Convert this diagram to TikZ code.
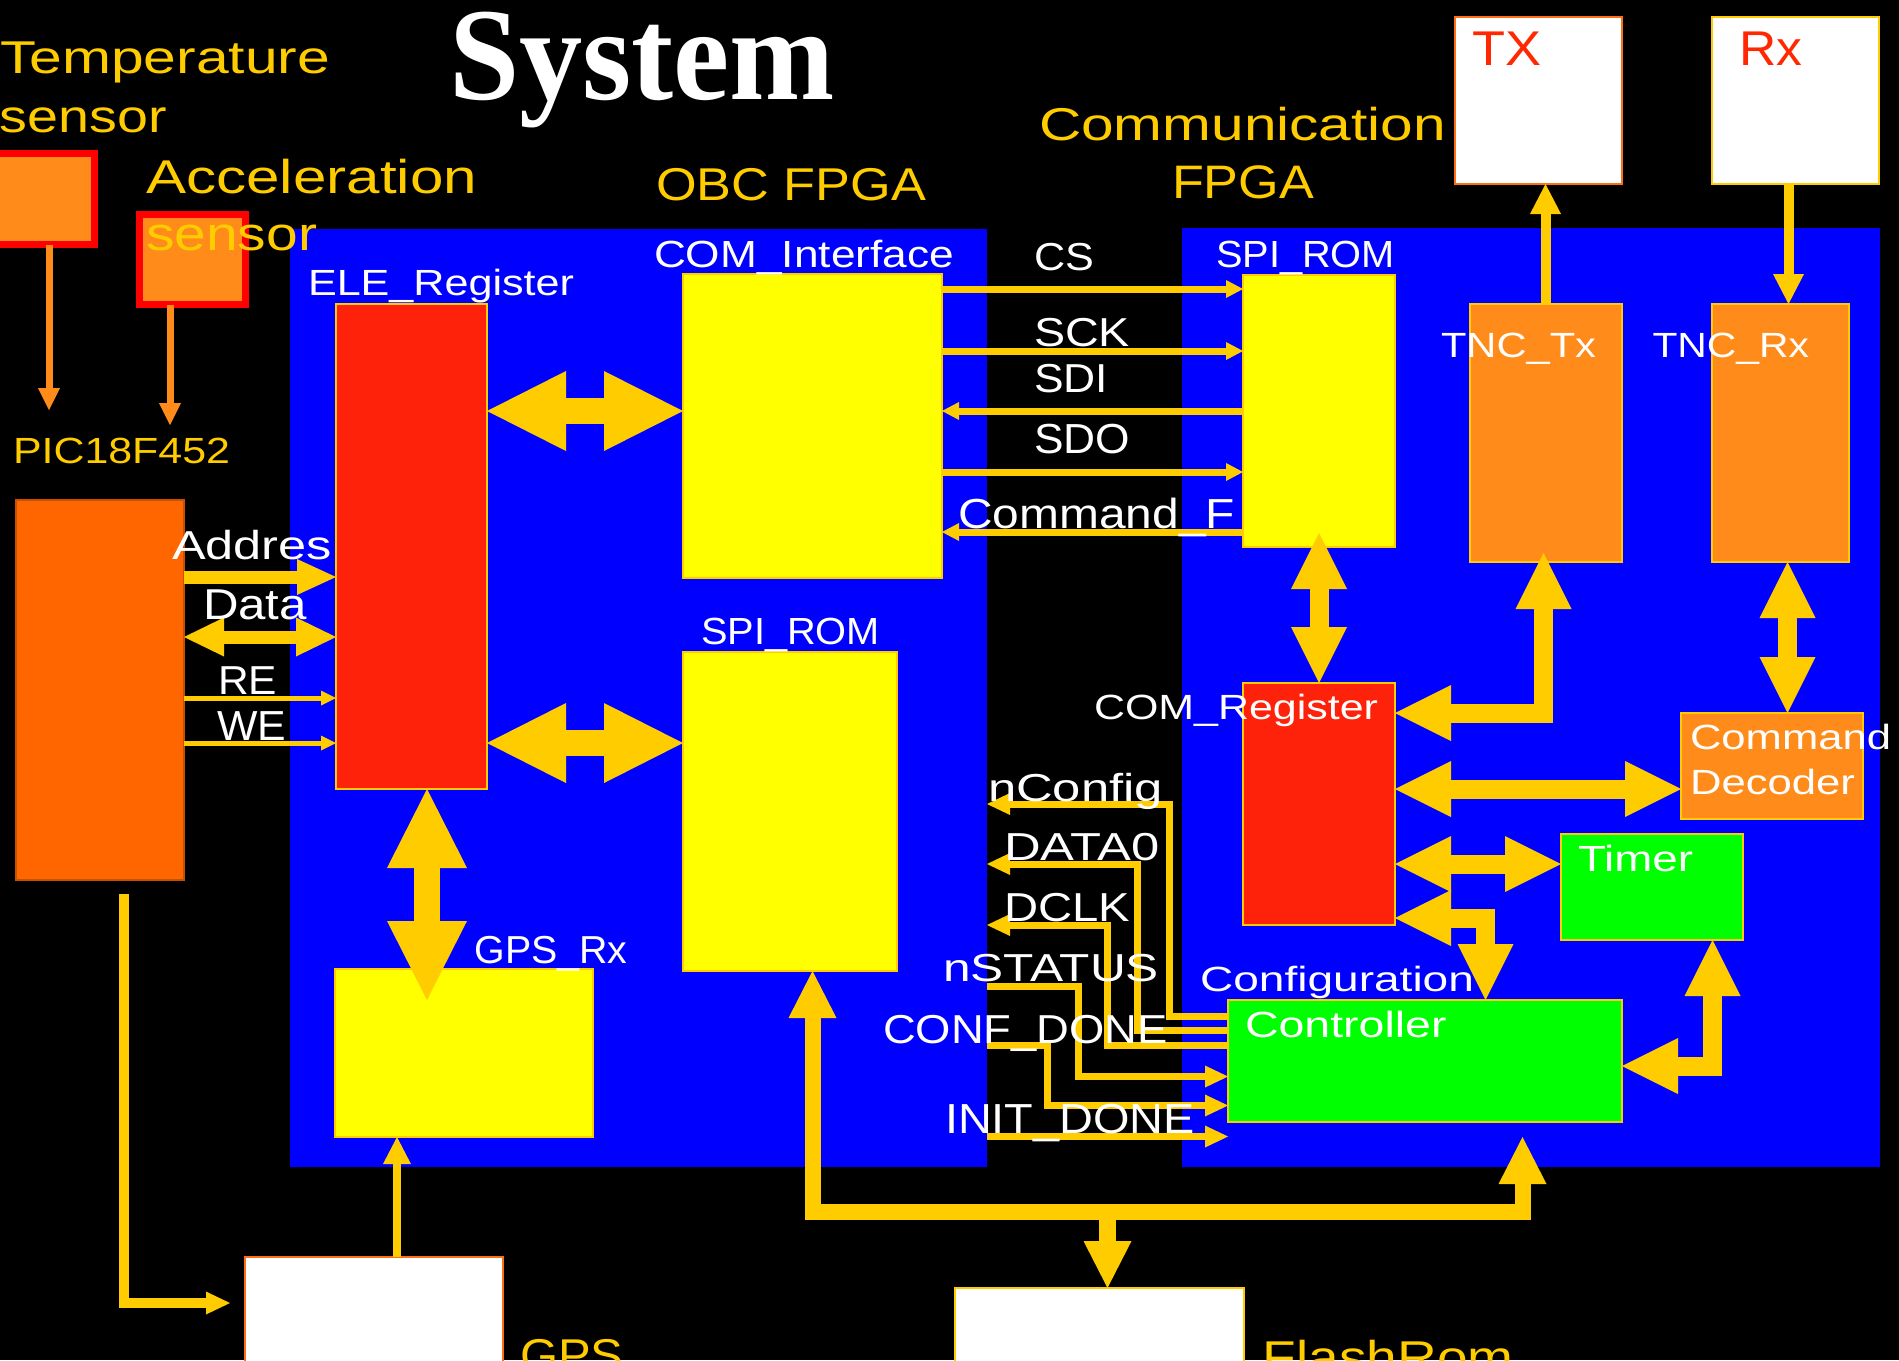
\documentclass[tikz,border=0pt]{standalone}
\usepackage{fontspec}
\usepackage{graphicx}
\setmainfont{Liberation Sans}
\newfontfamily\titlefont{Liberation Serif}
\usetikzlibrary{arrows.meta}
\definecolor{gold}{RGB}{255,204,0}
\definecolor{yel}{RGB}{255,255,0}
\definecolor{pblue}{RGB}{0,0,255}
\definecolor{regred}{RGB}{255,34,10}
\definecolor{org}{RGB}{255,140,26}
\definecolor{picorg}{RGB}{255,102,0}
\definecolor{picedge}{RGB}{200,80,0}
\definecolor{grn}{RGB}{0,255,0}
\definecolor{pured}{RGB}{255,0,0}
\definecolor{orgedge}{RGB}{255,110,20}
\definecolor{txred}{RGB}{255,40,0}
\newcommand\myfs[1]{\fontsize{#1}{#1}\selectfont}
\newcommand\mysx[2]{\resizebox{#1}{\height}{#2}}
\newcommand\mybox[6]{\node[box,#6,minimum width={(#4-#2)*0.5pt},minimum height={(#5-#3)*0.5pt}] (#1) at (#2,#3) {};}
\tikzset{
  box/.style={rectangle, anchor=north west, draw=gold, line width=1pt, inner sep=0pt, outer sep=0pt},
  lab/.style={anchor=base west, inner sep=0pt, outer sep=0pt, text=white},
  ylab/.style={lab, text=gold},
  conn/.style={line cap=butt, line join=miter, draw=gold},
  sarr/.style={conn, draw=org, line width=3.5pt, -{Triangle[length=11pt,width=11pt,line width=0pt]}},
  pica/.style={conn, line width=5pt, -{Triangle[length=12pt,width=11.5pt,line width=0pt]}},
  gpsa/.style={conn, line width=4pt, -{Triangle[length=13.5pt,width=14pt,line width=0pt]}},
  big/.style={conn, line width=13pt, {Triangle[length=39.5pt,width=40pt,line width=0pt]}-{Triangle[length=39.5pt,width=40pt,line width=0pt]}},
  addr/.style={conn, line width=6.5pt, -{Triangle[length=19.5pt,width=18pt,line width=0pt]}},
  dbus/.style={conn, line width=6.5pt, {Triangle[length=20pt,width=19.5pt,line width=0pt]}-{Triangle[length=20pt,width=19.5pt,line width=0pt]}},
  rw/.style={conn, line width=2.5pt, -{Triangle[length=7.5pt,width=7.5pt,line width=0pt]}},
  sig/.style={conn, line width=3.5pt, -{Triangle[length=8.5pt,width=9pt,line width=0pt]}},
  cfg/.style={conn, line width=3.5pt, -{Triangle[length=11.5pt,width=11pt,line width=0pt]}},
  blk/.style={conn, line width=9.5pt, {Triangle[length=28pt,width=28pt,line width=0pt]}-{Triangle[length=28pt,width=28pt,line width=0pt]}},
  txr/.style={conn, line width=5pt, -{Triangle[length=15pt,width=15.5pt,line width=0pt]}},
  bus/.style={conn, line width=8pt, {Triangle[length=23.5pt,width=24pt,line width=0pt]}-{Triangle[length=23.5pt,width=24pt,line width=0pt]}},
  busd/.style={conn, line width=8.5pt, -{Triangle[length=23.5pt,width=24pt,line width=0pt]}},
}
\begin{document}
\begin{tikzpicture}[x=0.5pt,y=-0.5pt]
\useasboundingbox (0,0) rectangle (1899,1360);
\clip (0,0) rectangle (1899,1360);
\fill[black] (0,0) rectangle (1899,1360);

% panels
\mybox{obc}{290}{229}{987}{1167}{fill=pblue, draw=none}
\mybox{comf}{1182}{228}{1880}{1167}{fill=pblue, draw=none}

% sensor arrows (under sensor boxes)
\coordinate (picin1) at (49,410);
\coordinate (picin2) at (170,425);
\node[box, fill=org, draw=pured, line width=3.5pt, minimum width=51.25pt, minimum height=45.5pt] (tempbox) at (-8,153.5) {};
\node[box, fill=org, draw=pured, line width=3.5pt, minimum width=53pt, minimum height=45pt] (accbox) at (139.5,214.5) {};
\draw[sarr] (49,0 |- tempbox.south) -- (picin1);
\draw[sarr] (170,0 |- accbox.south) -- (picin2);

% boxes
\mybox{pic}{16}{500}{184}{880}{fill=picorg, draw=picedge}
\mybox{ele}{336}{304}{487}{789}{fill=regred}
\mybox{comif}{683}{274}{942}{578}{fill=yel}
\mybox{spia}{683}{652}{897}{971}{fill=yel}
\mybox{gpsrx}{335}{969}{593}{1137}{fill=yel}
\mybox{gps}{245}{1257}{503}{1400}{fill=white, draw=orgedge}
\mybox{flash}{955}{1288}{1244}{1400}{fill=white}
\mybox{spib}{1243}{275}{1395}{547}{fill=yel}
\mybox{comreg}{1243}{683}{1395}{925}{fill=regred}
\mybox{tnctx}{1470}{304}{1622}{562}{fill=org}
\mybox{tncrx}{1712}{304}{1849}{562}{fill=org}
\mybox{tx}{1455}{17}{1622}{184}{fill=white, draw=orgedge}
\mybox{rx}{1712}{17}{1879}{184}{fill=white}
\mybox{cmd}{1681}{713}{1863}{819}{fill=org}
\mybox{timer}{1561}{834}{1743}{940}{fill=grn}
\mybox{ctrl}{1228}{1000}{1622}{1122}{fill=grn}

% PIC side
\draw[pica] ([yshift=-7pt]124,0 |- pic.south) -- (124,1303) -- ([xshift=-7.5pt]gps.west |- 0,1303);
\draw[gpsa] (397,0 |- gps.north) -- (397,0 |- gpsrx.south);
\draw[addr] (pic.east |- 0,577) -- (ele.west |- 0,577);
\draw[dbus] (pic.east |- 0,637) -- (ele.west |- 0,637);
\draw[rw] (pic.east |- 0,698) -- (ele.west |- 0,698);
\draw[rw] (pic.east |- 0,743) -- (ele.west |- 0,743);

% OBC internal
\draw[big] (ele.east |- 0,411) -- (comif.west |- 0,411);
\draw[big] (ele.east |- 0,743) -- (spia.west |- 0,743);
\draw[big] (427,0 |- ele.south) -- ([yshift=-15.5pt]427,0 |- gpsrx.north);

% SPI signals
\draw[sig] (comif.east |- 0,289) -- (spib.west |- 0,289);
\draw[sig] (comif.east |- 0,351) -- (spib.west |- 0,351);
\draw[sig] (spib.west |- 0,411) -- (comif.east |- 0,411);
\draw[sig] (comif.east |- 0,472) -- (spib.west |- 0,472);
\draw[sig] (spib.west |- 0,532) -- (comif.east |- 0,532);

% COM internal
\draw[blk] ([yshift=7pt]1319,0 |- spib.south) -- (1319,0 |- comreg.north);
\draw[blk] (comreg.east |- 0,713) -- (1543.5,713) -- ([yshift=4.5pt]1543.5,0 |- tnctx.south);
\draw[blk] (comreg.east |- 0,789) -- (cmd.west |- 0,789);
\draw[blk] (1787.5,0 |- tncrx.south) -- (1787.5,0 |- cmd.north);
\draw[blk] (comreg.east |- 0,864) -- (timer.west |- 0,864);
\draw[blk] (comreg.east |- 0,918) -- (1485.5,918) -- (1485.5,0 |- ctrl.north);
\draw[blk] (ctrl.east |- 0,1066) -- (1712.5,1066) -- (1712.5,0 |- timer.south);
\draw[txr] (1545.5,0 |- tnctx.north) -- (1545.5,0 |- tx.south);
\draw[txr] (1788.5,0 |- rx.south) -- (1788.5,0 |- tncrx.north);

% configuration signals
\draw[cfg] (ctrl.west |- 0,1016) -- (1169,1016) -- (1169,804) -- (obc.east |- 0,804);
\draw[cfg] (ctrl.west |- 0,1030.5) -- (1137.5,1030.5) -- (1137.5,864) -- (obc.east |- 0,864);
\draw[cfg] (ctrl.west |- 0,1045) -- (1107.5,1045) -- (1107.5,925) -- (obc.east |- 0,925);
\draw[cfg] (obc.east |- 0,986) -- (1078,986) -- (1078,1076.5) -- (ctrl.west |- 0,1076.5);
\draw[cfg] (obc.east |- 0,1045.5) -- (1047.5,1045.5) -- (1047.5,1105.5) -- (ctrl.west |- 0,1105.5);
\draw[cfg] (obc.east |- 0,1136.5) -- (ctrl.west |- 0,1136.5);

% flash bus
\coordinate (busmid) at (1107.5,1212);
\draw[bus] (812.5,0 |- spia.south) -- (812.5,1212) -- (1522.5,1212) -- ([yshift=-7.5pt]1522.5,0 |- ctrl.south);
\draw[busd] (busmid) -- (1107.5,0 |- flash.north);

% texts
\node[lab, font=\titlefont\bfseries\myfs{66}] (ttitle) at (449,99) {\mysx{193pt}{System}};
\node[ylab, font=\myfs{23}] (ttemp1) at (0,73) {\mysx{165pt}{Temperature}};
\node[ylab, font=\myfs{23}] (ttemp2) at (0,132) {\mysx{83.5pt}{sensor}};
\node[ylab, font=\myfs{23.7}] (tacc1) at (146,193) {\mysx{165.5pt}{Acceleration}};
\node[ylab, font=\myfs{23.7}] (tacc2) at (146,250) {\mysx{85.5pt}{sensor}};
\node[ylab, font=\myfs{18.2}] (tpic) at (13,463) {\mysx{108.5pt}{PIC18F452}};
\node[ylab, font=\myfs{23}] (tobc) at (656,200) {\mysx{135pt}{OBC FPGA}};
\node[ylab, font=\myfs{23}] (tcomm1) at (1039,140) {\mysx{203.5pt}{Communication}};
\node[ylab, font=\myfs{23.5}] (tcomm2) at (1172,198) {\mysx{71pt}{FPGA}};
\node[ylab, font=\myfs{23}] (tgps) at (520,1371) {\mysx{51.75pt}{GPS}};
\node[ylab, font=\myfs{23}] (tflash) at (1262.6,1373) {\mysx{125.5pt}{FlashRom}};
\node[lab, text=txred, font=\myfs{24.4}] (ttx) at (1472,66) {\mysx{34.5pt}{TX}};
\node[lab, text=txred, font=\myfs{24.4}] (trx) at (1739,66) {\mysx{31.5pt}{Rx}};

\node[lab, font=\myfs{18.9}] (tcomif) at (654,267) {\mysx{150pt}{COM\_Interface}};
\node[lab, font=\myfs{18.2}] (tele) at (308,295) {\mysx{133pt}{ELE\_Register}};
\node[lab, font=\myfs{18.9}] (tspia) at (701,644) {\mysx{89.5pt}{SPI\_ROM}};
\node[lab, font=\myfs{18.9}] (tspib) at (1216,267) {\mysx{89.5pt}{SPI\_ROM}};
\node[lab, font=\myfs{19.5}] (tcs) at (1034,270) {\mysx{30pt}{CS}};
\node[lab, font=\myfs{20.2}] (tsck) at (1034,346) {\mysx{48pt}{SCK}};
\node[lab, font=\myfs{20.2}] (tsdi) at (1034,392) {\mysx{37pt}{SDI}};
\node[lab, font=\myfs{21}] (tsdo) at (1034,453) {\mysx{48pt}{SDO}};
\node[lab, font=\myfs{21}] (tcmdf) at (958,528) {\mysx{138.5pt}{Command\_F}};
\node[lab, font=\myfs{20.2}] (taddr) at (172,559) {\mysx{80pt}{Addres}};
\node[lab, font=\myfs{21.6}] (tdata) at (203,619) {\mysx{52pt}{Data}};
\node[lab, font=\myfs{20.2}] (tre) at (218,694) {\mysx{29.5pt}{RE}};
\node[lab, font=\myfs{21}] (twe) at (217,740) {\mysx{34.5pt}{WE}};
\node[lab, font=\myfs{19.5}] (tgpsrx) at (474.5,963) {\mysx{76.5pt}{GPS\_Rx}};
\node[lab, font=\myfs{17.5}] (ttnctx) at (1441,357) {\mysx{77.5pt}{TNC\_Tx}};
\node[lab, font=\myfs{17.5}] (ttncrx) at (1652.5,357) {\mysx{78.25pt}{TNC\_Rx}};
\node[lab, font=\myfs{17.5}] (tcomreg) at (1094,719) {\mysx{142pt}{COM\_Register}};
\node[lab, font=\myfs{17.5}] (tcmd1) at (1690,749) {\mysx{100.5pt}{Command}};
\node[lab, font=\myfs{17.5}] (tcmd2) at (1690,794) {\mysx{82.5pt}{Decoder}};
\node[lab, font=\myfs{18.2}] (ttimer) at (1578,871) {\mysx{57.5pt}{Timer}};
\node[lab, font=\myfs{17.5}] (tconf1) at (1200,991) {\mysx{137pt}{Configuration}};
\node[lab, font=\myfs{18.2}] (tconf2) at (1245,1037) {\mysx{100.75pt}{Controller}};
\node[lab, font=\myfs{19.5}] (tnconf) at (988,801) {\mysx{87.5pt}{nConfig}};
\node[lab, font=\myfs{19.5}] (tdata0) at (1004,860) {\mysx{78pt}{DATA0}};
\node[lab, font=\myfs{20.2}] (tdclk) at (1004,921) {\mysx{63pt}{DCLK}};
\node[lab, font=\myfs{19.5}] (tnstat) at (943,981) {\mysx{108pt}{nSTATUS}};
\node[lab, font=\myfs{20.2}] (tconfd) at (883,1043) {\mysx{142.5pt}{CONF\_DONE}};
\node[lab, font=\myfs{21}] (tinitd) at (945,1133) {\mysx{125pt}{INIT\_DONE}};
\end{tikzpicture}
\end{document}
